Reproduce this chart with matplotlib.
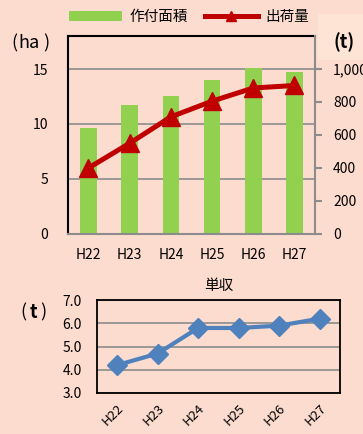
import matplotlib.pyplot as plt
from matplotlib.lines import Line2D
from matplotlib.patches import Patch, Rectangle

plt.rcParams["font.family"] = ["Noto Sans CJK JP", "DejaVu Sans"]

years = ["H22", "H23", "H24", "H25", "H26", "H27"]
area_ha = [9.6, 11.7, 12.5, 14.0, 15.1, 14.7]
shipment_t = [400, 550, 710, 805, 885, 900]
yield_t = [4.2, 4.7, 5.8, 5.8, 5.9, 6.2]

BG = "#fcdccf"
GREEN = "#92d050"
RED = "#c00000"
BLUE = "#4f81bd"
GRID = "#8c8c8c"

fig = plt.figure(figsize=(3.63, 4.34), dpi=100, facecolor=BG)


def px(x, y):
    """pixel position (from top-left) -> figure fraction"""
    return x / 363, 1 - y / 434


# lighter box behind the right axis unit
fig.patches.append(Rectangle(px(318, 60), 45 / 363, 46 / 434,
                             transform=fig.transFigure, facecolor="#fde4d4",
                             edgecolor="none", zorder=0))

# --- top: planted area (bars) and shipments (line) ---
ax = fig.add_axes([0.187, 0.461, 0.681, 0.456])
ax.set_facecolor(BG)
x = range(len(years))
ax.bar(x, area_ha, width=0.4, color=GREEN, zorder=2)
ax.set_xlim(-0.5, len(years) - 0.5)
ax.set_ylim(0, 18)
ax.set_yticks([0, 5, 10, 15])
ax.yaxis.grid(True, color=GRID, linewidth=1.2, zorder=1)
ax.set_axisbelow(True)
ax.set_xticks(list(x))
ax.set_xticklabels(years, fontsize=10)
ax.tick_params(axis="x", length=0, pad=10)
ax.tick_params(axis="y", length=0, pad=14, labelsize=10)
ax.spines["left"].set_color("black")
ax.spines["left"].set_linewidth(1.5)
ax.spines["top"].set_color("black")
ax.spines["top"].set_linewidth(1.5)
ax.spines["bottom"].set_color(GRID)
ax.spines["bottom"].set_linewidth(1.5)
ax.spines["right"].set_visible(False)

ax2 = ax.twinx()
ax2.plot(x, shipment_t, color=RED, linewidth=3.6, marker="^",
         markersize=13, zorder=3)
ax2.set_ylim(0, 1200)
ax2.set_yticks(range(0, 1001, 200))
ax2.set_yticklabels(["0", "200", "400", "600", "800", "1,000"])
ax2.tick_params(axis="y", length=5, width=1.5, color=GRID, pad=8, labelsize=10)
ax2.spines["right"].set_color(GRID)
ax2.spines["right"].set_linewidth(1.5)
for s in ["left", "top", "bottom"]:
    ax2.spines[s].set_visible(False)

# unit labels
for ch, cx in [("(", 14), ("ha", 29.5), (")", 46)]:
    fig.text(*px(cx, 43), ch, fontsize=13, va="center", ha="center")
fig.text(*px(344, 42), "(t)", fontsize=13, va="center", ha="center",
         fontweight="bold")

handles = [Patch(facecolor=GREEN, edgecolor="none"),
           Line2D([], [], color=RED, linewidth=3.6, marker="^", markersize=7)]
fig.legend(handles, ["作付面積", "出荷量"], loc="center",
           bbox_to_anchor=px(189, 17), ncol=2, frameon=False,
           fontsize=10.5, handlelength=3.6, handleheight=0.7,
           columnspacing=1.2, handletextpad=0.5)

# --- bottom: yield per unit area ---
ax3 = fig.add_axes([0.267, 0.0945, 0.669, 0.214])
ax3.set_facecolor(BG)
ax3.plot(x, yield_t, color=BLUE, linewidth=3, marker="D", markersize=10)
ax3.set_xlim(-0.5, len(years) - 0.5)
ax3.set_ylim(3, 7)
ax3.set_yticks([3, 4, 5, 6, 7])
ax3.set_yticklabels([f"{v:.1f}" for v in [3, 4, 5, 6, 7]])
ax3.yaxis.grid(True, color=GRID, linewidth=1.2)
ax3.set_axisbelow(True)
ax3.set_xticks(list(x))
ax3.set_xticklabels(years, rotation=45, ha="right", rotation_mode="anchor",
                    fontsize=9.5)
ax3.tick_params(axis="x", length=0, pad=6)
ax3.tick_params(axis="y", length=0, pad=11, labelsize=10)
for s in ax3.spines.values():
    s.set_color("black")
    s.set_linewidth(1.3)
ax3.set_title("単収", fontsize=10.5, pad=7)

for ch, cx, w in [("(", 23.5, "normal"), ("t", 33.5, "bold"), (")", 43, "normal")]:
    fig.text(*px(cx, 312), ch, fontsize=13, va="center", ha="center",
             fontweight=w)

fig.savefig("out.png", dpi=100, facecolor=BG)
